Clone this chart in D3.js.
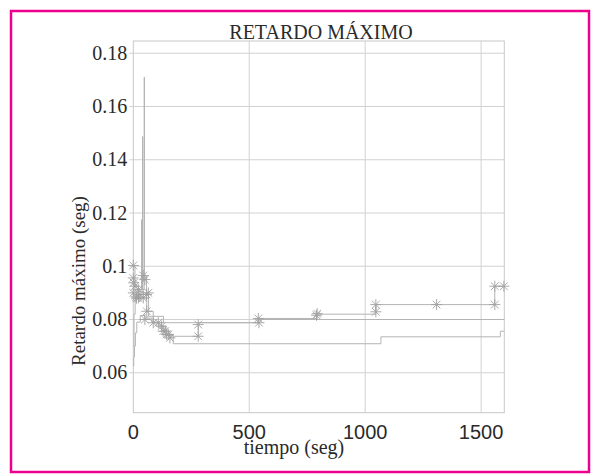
<!DOCTYPE html>
<html>
<head>
<meta charset="utf-8">
<script src="https://cdn.jsdelivr.net/npm/d3@7"></script>
<style>
  body { margin: 0; background: #fff; }
  svg { display: block; }
</style>
</head>
<body>
<div id="chart"></div>
<script>
// Retardo máximo vs tiempo - step lines with star markers

// Upper line (max delay, with the early spikes)
const upperT = [0, 7, 22, 36, 37, 40, 41, 47, 48, 57, 66, 130, 539, 790, 1046, 1559, 1600];
const upperV = [0.1003, 0.0925, 0.0912, 0.1175, 0.0912, 0.1487, 0.0912, 0.171, 0.0965, 0.0894, 0.0812, 0.0788, 0.0804, 0.0820, 0.0856, 0.0925, 0.0925];

// Middle line (descending cluster)
const midT = [0, 3, 8, 20, 43, 58, 86, 122, 129, 151, 170, 280, 539, 1600];
const midV = [0.070, 0.082, 0.088, 0.0905, 0.0881, 0.0831, 0.0788, 0.0775, 0.0756, 0.0744, 0.0737, 0.0788, 0.0800, 0.0800];

// Lower line (min delay)
const lowT = [0, 2, 5, 9, 15, 30, 50, 80, 110, 140, 172, 1068, 1583, 1600];
const lowV = [0.0625, 0.066, 0.070, 0.075, 0.079, 0.0815, 0.0805, 0.079, 0.0775, 0.074, 0.0709, 0.0735, 0.0756, 0.0756];

// Star markers (measured samples)
const markT = [0, 0, 2, 7, 12, 22, 0, 29, 43, 50, 65, 43, 22, 14, 57, 58, 50,
  86, 108, 122, 129, 137, 144, 151, 158, 280, 280, 539, 542, 790, 793,
  1046, 1046, 1308, 1559, 1559, 1598];
const markV = [0.1003, 0.0956, 0.0938, 0.0925, 0.0885, 0.0912, 0.090, 0.0894, 0.0965, 0.095, 0.090, 0.0881, 0.0881, 0.088, 0.0894, 0.0831, 0.080,
  0.0788, 0.0788, 0.0775, 0.0756, 0.0756, 0.0744, 0.0744, 0.0731, 0.0781, 0.0737, 0.0804, 0.0788, 0.0816, 0.0822,
  0.0856, 0.0829, 0.0856, 0.0925, 0.0856, 0.0925];

// Axes
const xTicks = [0, 500, 1000, 1500];
const yTicks = [0.06, 0.08, 0.10, 0.12, 0.14, 0.16, 0.18];
const yTickLabels = ["0.06", "0.08", "0.1", "0.12", "0.14", "0.16", "0.18"];

const titleText = "RETARDO MÁXIMO";
const xLabel = "tiempo (seg)";
const yLabel = "Retardo máximo (seg)";

const width = 592;
const height = 474;
const plot = { left: 133.3, right: 504.3, top: 41, bottom: 412.7 };

const serif = "'Liberation Serif', 'Times New Roman', serif";
const sans = "'Liberation Sans', Arial, sans-serif";

const svg = d3.select("#chart")
  .append("svg")
  .attr("width", width)
  .attr("height", height);

// pink frame
svg.append("rect")
  .attr("x", 11)
  .attr("y", 11)
  .attr("width", 578)
  .attr("height", 461)
  .attr("fill", "#fff")
  .attr("stroke", "#ec008c")
  .attr("stroke-width", 2.5);

const x = d3.scaleLinear().domain([0, 1600]).range([plot.left, plot.right]);
const y = d3.scaleLinear().domain([0.045, 0.1846]).range([plot.bottom, plot.top]);

// grid
const grid = svg.append("g").attr("stroke", "#d2d2d2").attr("stroke-width", 1);
grid.selectAll(".hg")
  .data(yTicks)
  .enter()
  .append("line")
  .attr("x1", plot.left - 4)
  .attr("x2", plot.right)
  .attr("y1", d => y(d))
  .attr("y2", d => y(d));
grid.selectAll(".vg")
  .data(xTicks.filter(d => d > 0))
  .enter()
  .append("line")
  .attr("x1", d => x(d))
  .attr("x2", d => x(d))
  .attr("y1", plot.top)
  .attr("y2", plot.bottom);

// plot box
svg.append("rect")
  .attr("x", plot.left)
  .attr("y", plot.top)
  .attr("width", plot.right - plot.left)
  .attr("height", plot.bottom - plot.top)
  .attr("fill", "none")
  .attr("stroke", "#c8c8c8")
  .attr("stroke-width", 1);

// step lines
const line = d3.line()
  .x(d => x(d[0]))
  .y(d => y(d[1]))
  .curve(d3.curveStepAfter);

const series = [
  d3.zip(lowT, lowV),
  d3.zip(midT, midV),
  d3.zip(upperT, upperV)
];

svg.append("g")
  .selectAll("path")
  .data(series)
  .enter()
  .append("path")
  .attr("d", line)
  .attr("fill", "none")
  .attr("stroke", "#b4b4b4")
  .attr("stroke-width", 1);

// star markers
const star = 5.5;
const marks = svg.append("g")
  .attr("stroke", "#a0a0a0")
  .attr("stroke-width", 0.9)
  .selectAll("g")
  .data(d3.zip(markT, markV))
  .enter()
  .append("g")
  .attr("transform", d => `translate(${x(d[0])},${y(d[1])})`);

[[-star, 0, star, 0], [0, -star, 0, star],
 [-star * 0.7, -star * 0.7, star * 0.7, star * 0.7],
 [-star * 0.7, star * 0.7, star * 0.7, -star * 0.7]].forEach(s => {
  marks.append("line")
    .attr("x1", s[0]).attr("y1", s[1])
    .attr("x2", s[2]).attr("y2", s[3]);
});

// tick labels
svg.append("g")
  .selectAll("text")
  .data(yTicks)
  .enter()
  .append("text")
  .attr("x", plot.left - 6)
  .attr("y", d => y(d))
  .attr("dy", "0.33em")
  .attr("text-anchor", "end")
  .style("font-family", serif)
  .style("font-size", "20px")
  .attr("fill", "#2a2a2a")
  .text((d, i) => yTickLabels[i]);

svg.append("g")
  .selectAll("text")
  .data(xTicks)
  .enter()
  .append("text")
  .attr("x", d => x(d))
  .attr("y", 439)
  .attr("text-anchor", "middle")
  .style("font-family", sans)
  .style("font-size", "20px")
  .attr("fill", "#2a2a2a")
  .text(d => d);

// title and axis labels
svg.append("text")
  .attr("x", 321)
  .attr("y", 39)
  .attr("text-anchor", "middle")
  .style("font-family", serif)
  .style("font-size", "20px")
  .attr("fill", "#2a2a2a")
  .text(titleText);

svg.append("text")
  .attr("x", 294)
  .attr("y", 454)
  .attr("text-anchor", "middle")
  .style("font-family", serif)
  .style("font-size", "20px")
  .attr("fill", "#2a2a2a")
  .text(xLabel);

svg.append("text")
  .attr("transform", "translate(85,281) rotate(-90)")
  .attr("text-anchor", "middle")
  .style("font-family", serif)
  .style("font-size", "19px")
  .attr("fill", "#2a2a2a")
  .text(yLabel);
</script>
</body>
</html>
